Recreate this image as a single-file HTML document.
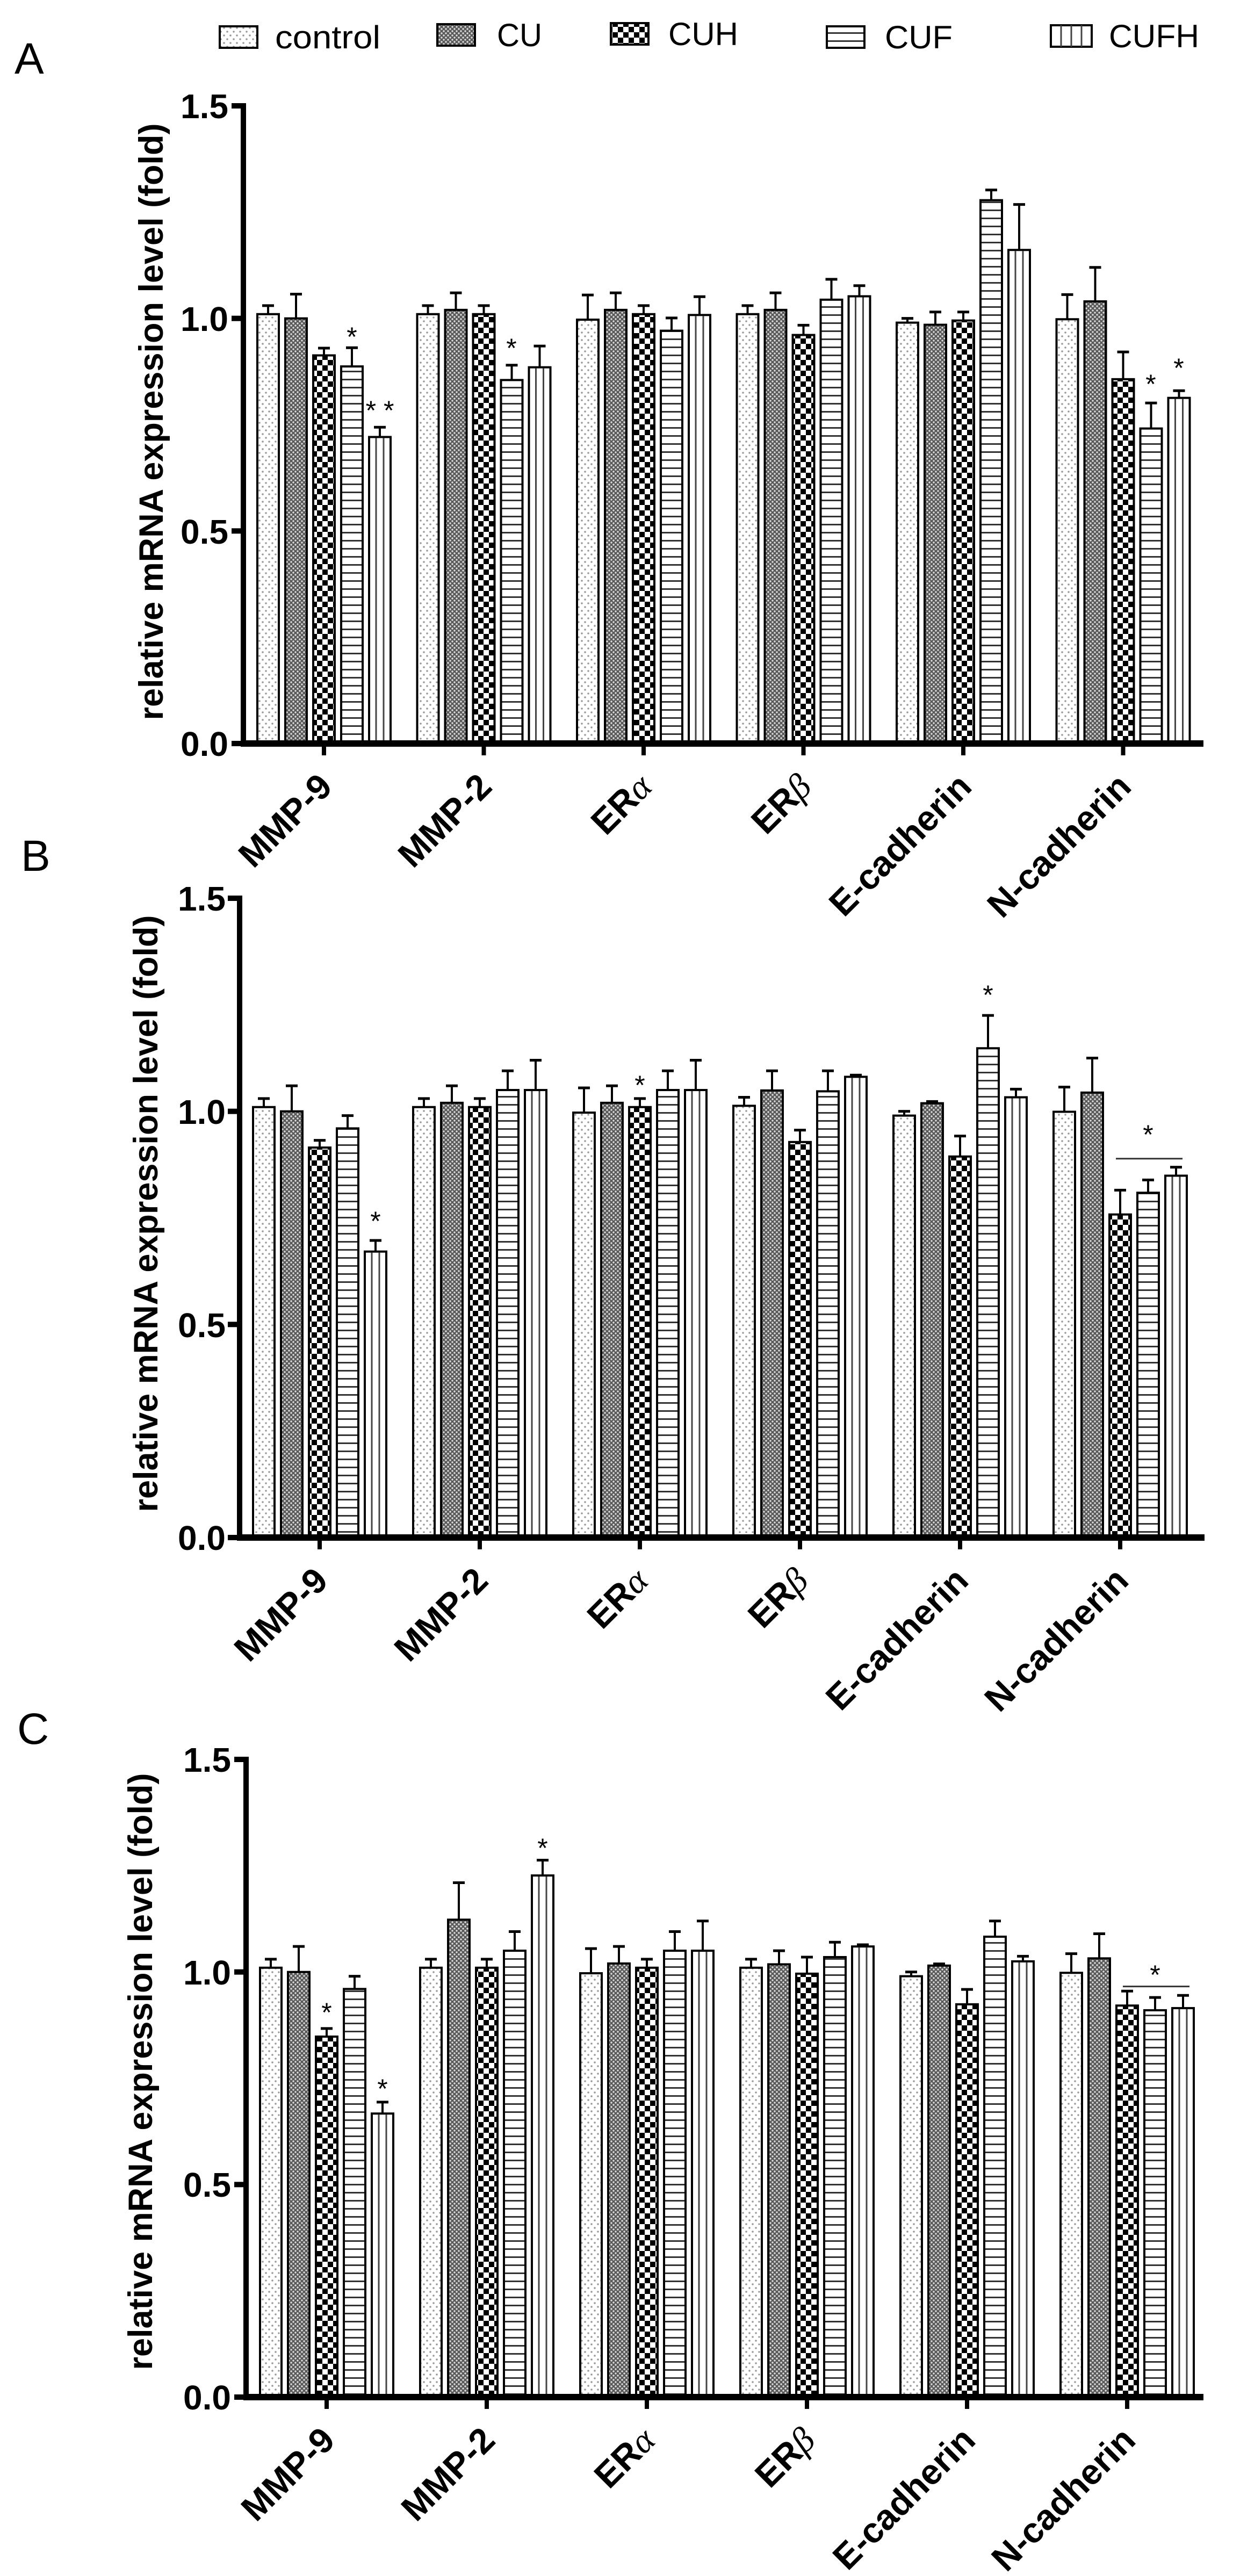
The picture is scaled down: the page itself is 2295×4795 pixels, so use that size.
<!DOCTYPE html>
<html><head><meta charset="utf-8">
<style>
html,body{margin:0;padding:0;background:#fff;}
svg{display:block;}
text{font-family:"Liberation Sans",Arial,sans-serif;}
</style></head>
<body>
<svg id="s" xmlns="http://www.w3.org/2000/svg" width="2295" height="4795" viewBox="0 0 2295 4795">
<defs>
<pattern id="pDot" patternUnits="userSpaceOnUse" width="12" height="14"><rect width="12" height="14" fill="#fff"/><circle cx="3" cy="3" r="1.8" fill="#999"/><circle cx="9" cy="10" r="1.8" fill="#999"/></pattern>
<pattern id="pCU" patternUnits="userSpaceOnUse" width="8" height="8"><rect width="8" height="8" fill="#5a5a5a"/><circle cx="2" cy="2" r="1.7" fill="#ddd"/><circle cx="6" cy="6" r="1.7" fill="#ddd"/></pattern>
<pattern id="pCUH" patternUnits="userSpaceOnUse" width="20" height="20"><rect width="20" height="20" fill="#fff"/><rect width="10" height="10" fill="#000"/><rect x="10" y="10" width="10" height="10" fill="#000"/></pattern>
<pattern id="pCUF" patternUnits="userSpaceOnUse" width="14" height="15"><rect width="14" height="15" fill="#fff"/><rect y="0" width="14" height="3" fill="#333"/></pattern>
</defs>

<!-- Legend -->
<g stroke="#000" stroke-width="4">
<rect x="409" y="49" width="70" height="40" fill="url(#pDot)"/>
<rect x="814" y="45" width="70" height="40" fill="url(#pCU)"/>
<rect x="1137" y="43" width="70" height="40" fill="url(#pCUH)"/>
<rect x="1539" y="49" width="70" height="40" fill="url(#pCUF)"/>
<rect x="1956" y="47" width="76" height="40" fill="#fff"/>
</g>
<g stroke="#444" stroke-width="3"><line x1="1975" y1="47" x2="1975" y2="87"/><line x1="1994" y1="47" x2="1994" y2="87"/><line x1="2013" y1="47" x2="2013" y2="87"/></g>
<g font-size="60" fill="#000">
<text x="512" y="90" textLength="196" lengthAdjust="spacingAndGlyphs">control</text>
<text x="925" y="86" textLength="84" lengthAdjust="spacingAndGlyphs">CU</text>
<text x="1244" y="84" textLength="130" lengthAdjust="spacingAndGlyphs">CUH</text>
<text x="1647" y="90" textLength="126" lengthAdjust="spacingAndGlyphs">CUF</text>
<text x="2064" y="88" textLength="168" lengthAdjust="spacingAndGlyphs">CUFH</text>
</g>

<!-- Panel letters -->
<g font-size="82" fill="#000">
<text x="27" y="137">A</text>
<text x="39" y="1621">B</text>
<text x="32" y="3246">C</text>
</g>

<!-- Y axis labels -->
<g font-size="63" font-weight="bold" fill="#000" text-anchor="middle">
<text transform="translate(303,785) rotate(-90)">relative mRNA expression level (fold)</text>
<text transform="translate(293,2259) rotate(-90)">relative mRNA expression level (fold)</text>
<text transform="translate(283,3856) rotate(-90)">relative mRNA expression level (fold)</text>
</g>

<!-- Tick labels -->
<g font-size="64" font-weight="bold" fill="#000" text-anchor="end">
<text x="425" y="220">1.5</text><text x="425" y="616">1.0</text><text x="425" y="1012">0.5</text><text x="425" y="1407">0.0</text>
<text x="420" y="1695">1.5</text><text x="420" y="2092">1.0</text><text x="420" y="2489">0.5</text><text x="420" y="2885">0.0</text>
<text x="430" y="3298">1.5</text><text x="430" y="3694">1.0</text><text x="430" y="4089">0.5</text><text x="430" y="4485">0.0</text>
</g>

<!-- Category labels -->
<g font-size="66" font-weight="bold" fill="#000" text-anchor="end">
<text transform="translate(622,1468) rotate(-45)">MMP-9</text>
<text transform="translate(919,1468) rotate(-45)">MMP-2</text>
<text transform="translate(1217,1468) rotate(-45)">ER<tspan font-weight="normal" font-family="Liberation Serif,serif" font-style="italic">α</tspan></text>
<text transform="translate(1514,1468) rotate(-45)">ER<tspan font-weight="normal" font-family="Liberation Serif,serif" font-style="italic">β</tspan></text>
<text transform="translate(1812,1468) rotate(-45)">E-cadherin</text>
<text transform="translate(2109,1468) rotate(-45)">N-cadherin</text>

<text transform="translate(614,2946) rotate(-45)">MMP-9</text>
<text transform="translate(912,2946) rotate(-45)">MMP-2</text>
<text transform="translate(1210,2946) rotate(-45)">ER<tspan font-weight="normal" font-family="Liberation Serif,serif" font-style="italic">α</tspan></text>
<text transform="translate(1508,2946) rotate(-45)">ER<tspan font-weight="normal" font-family="Liberation Serif,serif" font-style="italic">β</tspan></text>
<text transform="translate(1806,2946) rotate(-45)">E-cadherin</text>
<text transform="translate(2104,2946) rotate(-45)">N-cadherin</text>

<text transform="translate(627,4546) rotate(-45)">MMP-9</text>
<text transform="translate(925,4546) rotate(-45)">MMP-2</text>
<text transform="translate(1223,4546) rotate(-45)">ER<tspan font-weight="normal" font-family="Liberation Serif,serif" font-style="italic">α</tspan></text>
<text transform="translate(1521,4546) rotate(-45)">ER<tspan font-weight="normal" font-family="Liberation Serif,serif" font-style="italic">β</tspan></text>
<text transform="translate(1819,4546) rotate(-45)">E-cadherin</text>
<text transform="translate(2117,4546) rotate(-45)">N-cadherin</text>
</g>

<!-- Stars -->
<g font-size="50" fill="#000" text-anchor="middle">
<text x="655" y="644">*</text>
<text x="707" y="781">* *</text>
<text x="952" y="665">*</text>
<text x="2142" y="732">*</text>
<text x="2194" y="702">*</text>

<text x="699" y="2290">*</text>
<text x="1191" y="2037">*</text>
<text x="1839" y="1869">*</text>
<text x="2137" y="2129">*</text>

<text x="608" y="3763">*</text>
<text x="712" y="3905">*</text>
<text x="1010" y="3457">*</text>
<text x="2150" y="3693">*</text>
</g>

<g id="bars"></g>
</svg>
<script>
(function(){
var NS="http://www.w3.org/2000/svg";
var g=document.getElementById("bars");
function el(n,a){var e=document.createElementNS(NS,n);for(var k in a)e.setAttribute(k,a[k]);g.appendChild(e);return e;}
var fills=["url(#pDot)","url(#pCU)","url(#pCUH)","url(#pCUF)","#fff"];
var panels=[
 {y0:1384,top:197,ax:453,c0:603,gs:297.5,xend:2240,
  d:[[[1.01,.02],[1.0,.057],[.913,.017],[.887,.044],[.721,.023]],
     [[1.01,.02],[1.02,.04],[1.01,.02],[.855,.035],[.885,.05]],
     [[.997,.058],[1.02,.04],[1.01,.02],[.971,.03],[1.008,.043]],
     [[1.01,.02],[1.02,.04],[.961,.023],[1.044,.048],[1.052,.025]],
     [[.99,.01],[.985,.03],[.995,.02],[1.278,.024],[1.161,.107]],
     [[.998,.058],[1.04,.08],[.857,.064],[.741,.06],[.813,.017]]],line:null},
 {y0:2862,top:1672,ax:446,c0:595,gs:298,xend:2242,
  d:[[[1.01,.02],[1.0,.06],[.915,.017],[.96,.03],[.671,.026]],
     [[1.01,.02],[1.02,.04],[1.01,.02],[1.05,.045],[1.05,.07]],
     [[.997,.058],[1.02,.04],[1.01,.02],[1.05,.045],[1.05,.07]],
     [[1.013,.02],[1.049,.046],[.928,.028],[1.047,.048],[1.081,.004]],
     [[.99,.01],[1.019,.004],[.894,.048],[1.148,.077],[1.033,.019]],
     [[.999,.058],[1.044,.081],[.758,.057],[.809,.03],[.849,.02]]],line:[.889]},
 {y0:4462,top:3275,ax:458,c0:608,gs:298,xend:2240,
  d:[[[1.01,.02],[1.0,.06],[.848,.019],[.96,.03],[.667,.027]],
     [[1.01,.02],[1.123,.087],[1.01,.02],[1.05,.045],[1.227,.036]],
     [[.997,.058],[1.02,.04],[1.01,.02],[1.05,.045],[1.05,.07]],
     [[1.01,.02],[1.018,.032],[.996,.039],[1.035,.035],[1.06,.004]],
     [[.99,.01],[1.015,.004],[.924,.035],[1.083,.037],[1.025,.012]],
     [[.998,.045],[1.032,.058],[.921,.034],[.91,.03],[.915,.03]]],line:[.966]}
];
panels.forEach(function(p){
 var S=(p.y0-p.top)/1.5;
 for(var gi=0;gi<6;gi++){
  var c=p.c0+gi*p.gs;
  for(var k=0;k<5;k++){
   var v=p.d[gi][k][0],e=p.d[gi][k][1];
   var bx=c+(k-2)*52-20,by=p.y0-v*S,h=v*S;
   var et=by-e*S;
   el("line",{x1:bx+20,y1:by,x2:bx+20,y2:et,stroke:"#000","stroke-width":4});
   el("line",{x1:bx+9,y1:et,x2:bx+31,y2:et,stroke:"#000","stroke-width":5});
   el("rect",{x:bx,y:by,width:40,height:h,fill:fills[k],stroke:"#000","stroke-width":4});
   if(k==4){
    el("line",{x1:bx+13,y1:by+2,x2:bx+13,y2:p.y0,stroke:"#444","stroke-width":3});
    el("line",{x1:bx+27,y1:by+2,x2:bx+27,y2:p.y0,stroke:"#444","stroke-width":3});
   }
  }
  el("rect",{x:c-4,y:p.y0,width:8,height:22,fill:"#000"});
 }
 el("rect",{x:p.ax-5,y:p.top-5,width:10,height:p.y0-p.top+10,fill:"#000"});
 el("rect",{x:p.ax-5,y:p.y0-6,width:p.xend-p.ax+5,height:12,fill:"#000"});
 for(var t=0;t<4;t++){var ty=p.y0-t*0.5*S;el("rect",{x:p.ax-22,y:ty-5,width:20,height:10,fill:"#000"});}
 if(p.line){
  var c5=p.c0+5*p.gs, ly=p.y0-p.line[0]*S;
  el("line",{x1:c5-8,y1:ly,x2:c5+116,y2:ly,stroke:"#333","stroke-width":3});
 }
});
})();
</script>
</body></html>
